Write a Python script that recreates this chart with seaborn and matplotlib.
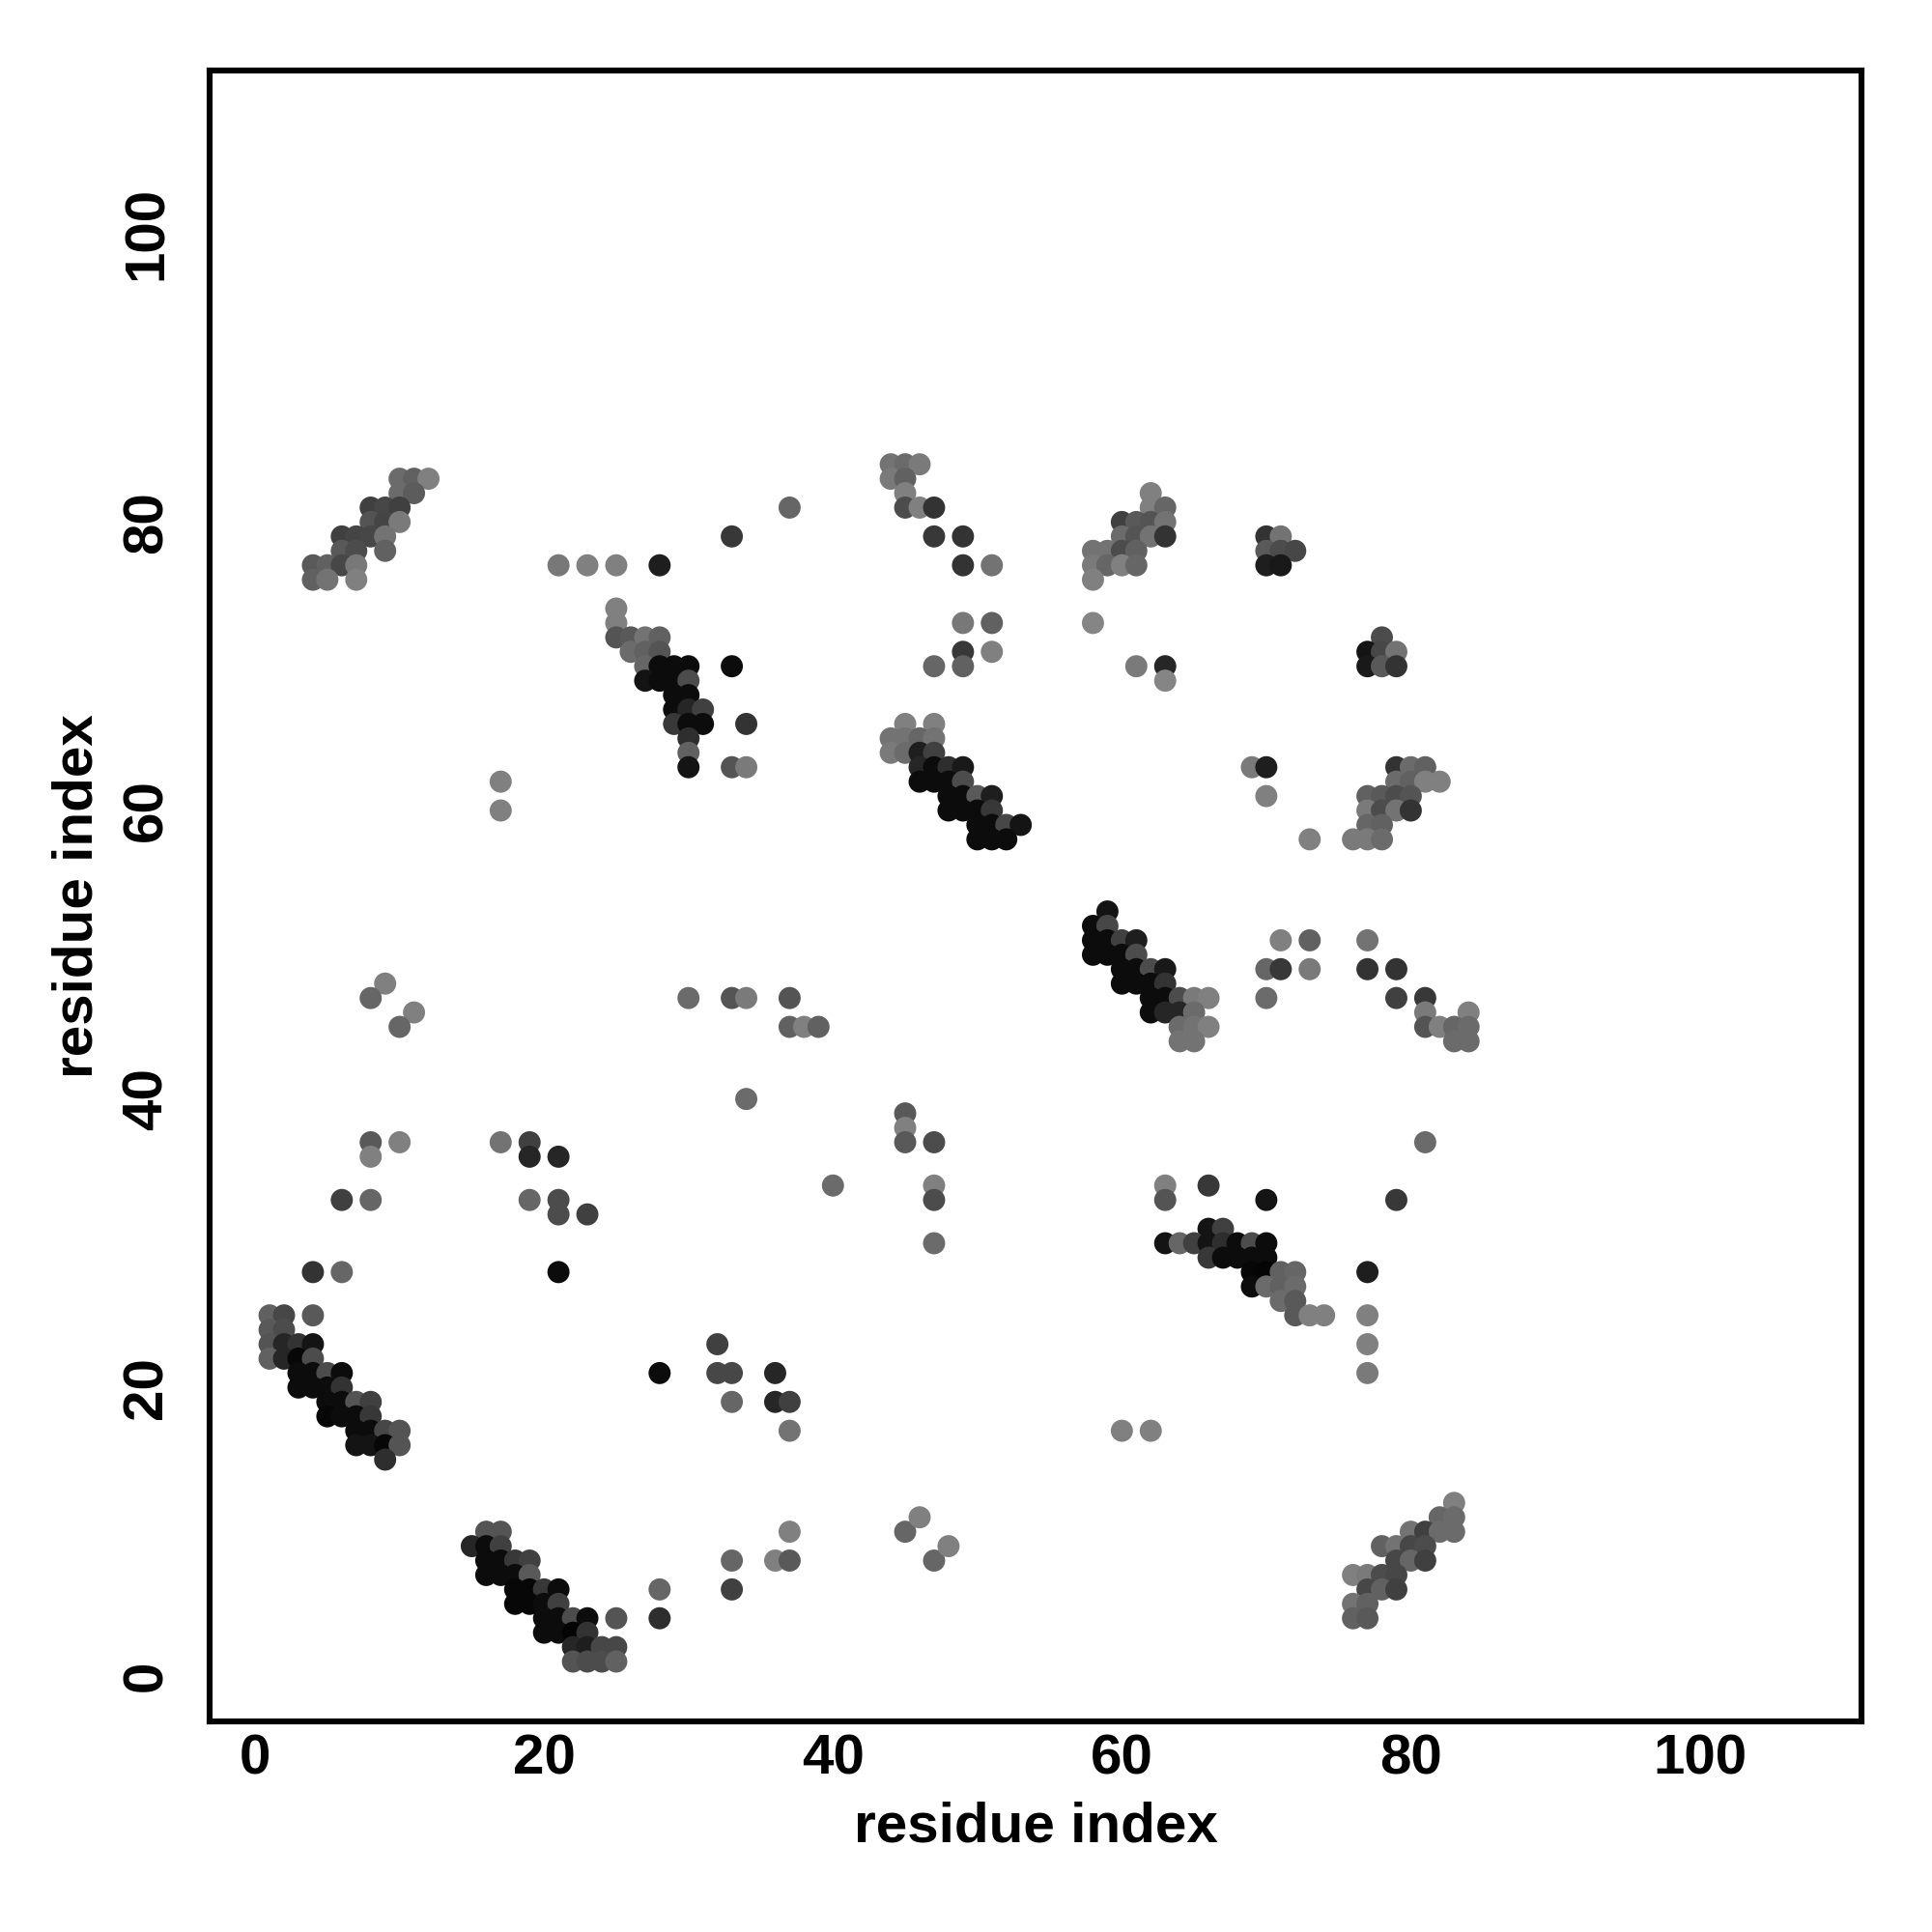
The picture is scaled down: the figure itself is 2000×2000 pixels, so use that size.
import matplotlib
matplotlib.use("Agg")
import matplotlib.pyplot as plt
import seaborn as sns
import pandas as pd

# ---- data: contact map (residue i, residue j, grey level of the dot) ----
res_i = [
    # cluster top-left
    10, 11, 12, 10, 11, 8, 9, 10, 8, 9, 10, 6, 7, 8, 9, 6, 7, 9, 4, 5, 6, 7, 4, 5, 7,
    21, 23, 25, 28, 33, 37, 17, 17,
    # cluster 25-34 / 63-74
    25, 25, 25, 26, 27, 28, 26, 27, 28, 27, 28, 29, 30, 33, 27, 28, 29, 30, 29, 30,
    29, 30, 31, 29, 30, 31, 34, 30, 30, 30, 33, 34,
    # cluster 44-53 / 58-66
    45, 47, 44, 45, 46, 47, 44, 45, 46, 47, 46, 47, 48, 49, 46, 47, 48, 49,
    48, 49, 50, 51, 48, 49, 50, 51, 50, 51, 52, 53, 50, 51, 52,
    # top middle 44-51 / 70-84
    44, 45, 46, 44, 45, 45, 45, 46, 47, 47, 49, 49, 51, 49, 51, 49, 51, 47, 49,
    # cluster 58-63 / 69-82
    62, 62, 63, 60, 61, 62, 63, 60, 61, 62, 63, 58, 59, 60, 61, 58, 59, 60, 61, 58, 58,
    61, 63, 63,
    70, 71, 70, 71, 72, 70, 71,
    78, 77, 78, 79, 77, 78, 79,
    69, 70, 70, 73,
    # cluster 76-82 / 58-63
    79, 80, 81, 79, 80, 81, 82, 77, 78, 79, 80, 77, 78, 79, 80, 77, 78, 76, 77, 78,
    # cluster 58-66 / 44-53
    59, 58, 59, 58, 59, 60, 61, 58, 59, 60, 61, 60, 61, 62, 63, 60, 61, 62, 63,
    62, 63, 64, 65, 66, 62, 63, 64, 65, 64, 65, 66, 64, 65,
    71, 73, 77, 70, 71, 73, 77, 79, 70, 79, 81, 81, 84, 81, 82, 83, 84, 83, 84, 81,
    # cluster 63-77 / 21-34
    63, 66, 63, 70, 79, 66, 67, 63, 64, 65, 66, 67, 68, 69, 70, 66, 67, 68, 69, 70,
    69, 70, 71, 72, 77, 69, 70, 71, 72, 71, 72, 72, 73, 74, 77, 77, 77, 60, 62,
    # cluster 1-10 / 15-25
    1, 2, 4, 1, 2, 1, 2, 3, 4, 1, 2, 3, 4, 3, 4, 5, 6, 3, 4, 5, 6, 5, 6, 7, 8,
    5, 6, 7, 8, 7, 8, 9, 10, 7, 8, 9, 10, 9,
    # cluster 15-25 / 1-10
    16, 17, 15, 16, 17, 16, 17, 18, 19, 16, 17, 18, 19, 18, 19, 20, 21, 18, 19, 20, 21,
    20, 21, 22, 23, 25, 20, 21, 22, 23, 22, 23, 24, 25, 22, 23, 24, 25, 28, 28,
    # scattered contacts
    9, 8, 11, 10, 8, 10, 17, 19, 8, 19, 21, 6, 8, 19, 21, 21, 23, 4, 6, 21,
    30, 33, 34, 37, 37, 38, 39, 34, 45, 45, 45, 47, 40, 47, 47, 47,
    32, 28, 32, 33, 36, 33, 36, 37, 37, 37, 45, 46, 33, 36, 37, 47, 48, 33,
    # cluster bottom-right 76-83 / 4-12
    83, 82, 83, 80, 81, 82, 83, 78, 79, 80, 81, 79, 80, 81, 76, 77, 78, 79, 77, 78, 79,
    76, 77, 76, 77,
]

res_j = [
    83, 83, 83, 82, 82, 81, 81, 81, 80, 80, 80, 79, 79, 79, 79, 78, 78, 78, 77, 77, 77, 77, 76, 76, 76,
    77, 77, 77, 77, 79, 81, 62, 60,
    74, 73, 72, 72, 72, 72, 71, 71, 71, 70, 70, 70, 70, 70, 69, 69, 69, 69, 68, 68,
    67, 67, 67, 66, 66, 66, 66, 65, 64, 63, 63, 63,
    66, 66, 65, 65, 65, 65, 64, 64, 64, 64, 63, 63, 63, 63, 62, 62, 62, 62,
    61, 61, 61, 61, 60, 60, 60, 60, 59, 59, 59, 59, 58, 58, 58,
    84, 84, 84, 83, 83, 82, 81, 81, 81, 79, 79, 77, 77, 73, 73, 71, 71, 70, 70,
    82, 81, 81, 80, 80, 80, 80, 79, 79, 79, 79, 78, 78, 78, 78, 77, 77, 77, 77, 76, 73,
    70, 70, 69,
    79, 79, 78, 78, 78, 77, 77,
    72, 71, 71, 71, 70, 70, 70,
    63, 63, 61, 58,
    63, 63, 63, 62, 62, 62, 62, 61, 61, 61, 61, 60, 60, 60, 60, 59, 59, 58, 58, 58,
    53, 52, 52, 51, 51, 51, 51, 50, 50, 50, 50, 49, 49, 49, 49, 48, 48, 48, 48,
    47, 47, 47, 47, 47, 46, 46, 46, 46, 45, 45, 45, 44, 44,
    51, 51, 51, 49, 49, 49, 49, 49, 47, 47, 47, 46, 46, 45, 45, 45, 45, 44, 44, 37,
    34, 34, 33, 33, 33, 31, 31, 30, 30, 30, 30, 30, 30, 30, 30, 29, 29, 29, 29, 29,
    28, 28, 28, 28, 28, 27, 27, 27, 27, 26, 26, 25, 25, 25, 25, 23, 21, 17, 17,
    25, 25, 25, 24, 24, 23, 23, 23, 23, 22, 22, 22, 22, 21, 21, 21, 21, 20, 20, 20, 20, 19, 19, 19, 19,
    18, 18, 18, 18, 17, 17, 17, 17, 16, 16, 16, 16, 15,
    10, 10, 9, 9, 9, 8, 8, 8, 8, 7, 7, 7, 7, 6, 6, 6, 6, 5, 5, 5, 5,
    4, 4, 4, 4, 4, 3, 3, 3, 3, 2, 2, 2, 2, 1, 1, 1, 1, 6, 4,
    48, 47, 46, 45, 37, 37, 37, 37, 36, 36, 36, 33, 33, 33, 33, 32, 32, 28, 28, 28,
    47, 47, 47, 47, 45, 45, 45, 40, 39, 38, 37, 37, 34, 34, 33, 30,
    23, 21, 21, 21, 21, 19, 19, 19, 17, 10, 10, 11, 8, 8, 8, 8, 9, 6,
    12, 11, 11, 10, 10, 10, 10, 9, 9, 9, 9, 8, 8, 8, 7, 7, 7, 7, 6, 6, 6,
    5, 5, 4, 4,
]

shade = [
    .42, .38, .50, .42, .36, .25, .28, .25, .33, .27, .48, .25, .27, .28, .45, .35, .30, .38, .35, .38, .28, .47, .38, .45, .50,
    .47, .50, .50, .12, .22, .40, .50, .50,
    .50, .50, .33, .35, .45, .38, .42, .38, .33, .40, .05, .05, .05, .05, .08, .05, .05, .30, .05, .05,
    .05, .15, .25, .22, .05, .05, .20, .18, .38, .08, .33, .48,
    .50, .50, .45, .45, .40, .45, .48, .42, .12, .25, .15, .05, .18, .10, .05, .05, .05, .30,
    .05, .05, .35, .12, .05, .05, .05, .22, .05, .05, .28, .08, .05, .05, .05,
    .45, .42, .48, .48, .38, .50, .30, .50, .20, .22, .20, .20, .45, .47, .38, .22, .50, .40, .38,
    .50, .50, .40, .25, .35, .33, .45, .42, .33, .45, .20, .45, .45, .30, .38, .48, .40, .50, .40, .50, .52,
    .48, .15, .52,
    .20, .45, .35, .30, .28, .12, .10,
    .30, .08, .28, .45, .10, .35, .20,
    .48, .12, .50, .50,
    .20, .42, .38, .42, .38, .50, .50, .38, .35, .30, .33, .48, .30, .45, .20, .40, .38, .48, .48, .42,
    .08, .05, .28, .05, .05, .25, .12, .05, .05, .05, .30, .05, .05, .30, .10, .05, .05, .05, .20,
    .05, .05, .30, .48, .50, .05, .15, .15, .42, .42, .45, .50, .45, .45,
    .50, .38, .45, .40, .22, .48, .20, .20, .42, .25, .22, .48, .50, .33, .50, .40, .42, .42, .42, .42,
    .50, .22, .33, .08, .22, .08, .25, .08, .40, .25, .08, .18, .05, .30, .05, .22, .05, .05, .05, .05,
    .03, .02, .38, .40, .12, .05, .42, .38, .42, .42, .35, .35, .50, .50, .50, .50, .48, .50, .50,
    .38, .28, .35, .35, .30, .33, .15, .20, .08, .38, .15, .03, .30, .05, .05, .30, .05, .05, .05, .05, .20, .05, .05, .33, .25,
    .03, .05, .05, .22, .05, .05, .28, .33, .08, .08, .03, .33, .18,
    .33, .33, .15, .05, .25, .05, .05, .22, .25, .05, .05, .05, .35, .03, .03, .22, .05, .03, .03, .05, .25,
    .05, .05, .30, .05, .33, .05, .05, .02, .20, .15, .12, .28, .28, .33, .30, .30, .38, .40, .18,
    .50, .40, .50, .40, .35, .50, .45, .25, .50, .15, .15, .25, .40, .40, .30, .30, .25, .20, .40, .05,
    .42, .33, .48, .33, .38, .50, .38, .42, .35, .50, .35, .30, .42, .50, .30, .42,
    .25, .05, .28, .28, .15, .40, .15, .25, .45, .50, .40, .50, .40, .50, .35, .40, .50, .25,
    .50, .40, .42, .45, .25, .42, .42, .38, .45, .28, .30, .28, .40, .25, .50, .48, .30, .28, .28, .38, .25,
    .45, .38, .38, .35,
]

x_ticks = [0, 20, 40, 60, 80, 100]
y_ticks = [0, 20, 40, 60, 80, 100]
axis_label = "residue index"

df = pd.DataFrame({"i": res_i, "j": res_j, "shade": shade})

sns.set_style("white")
plt.rcParams["font.family"] = ["Liberation Sans", "DejaVu Sans"]
plt.rcParams["font.weight"] = "bold"
plt.rcParams["text.color"] = "black"
plt.rcParams["axes.labelcolor"] = "black"
plt.rcParams["xtick.color"] = "black"
plt.rcParams["ytick.color"] = "black"

fig = plt.figure(figsize=(10, 10), dpi=200)
ax = fig.add_axes([0.1085, 0.109, 0.855, 0.8545])

sns.scatterplot(data=df, x="i", y="j", hue="shade", palette="gray",
                hue_norm=(0, 1), s=68, linewidth=0, legend=False, ax=ax)

ax.set_xlim(-3.15, 111.2)
ax.set_ylim(-3.15, 111.3)
ax.set_xticks(x_ticks)
ax.set_yticks(y_ticks)
ax.set_xticklabels([str(t) for t in x_ticks], fontsize=21, fontweight="bold", color="black")
ax.set_yticklabels([str(t) for t in y_ticks], fontsize=21, fontweight="bold",
                   rotation=90, va="center", color="black")
ax.tick_params(axis="both", direction="out", length=3.5, width=1.6, color="black")
ax.tick_params(axis="x", pad=1)
ax.tick_params(axis="y", pad=10)

for sp in ax.spines.values():
    sp.set_visible(True)
    sp.set_linewidth(2.2)
    sp.set_color("black")

ax.set_xlabel(axis_label, fontsize=21, fontweight="bold", color="black")
ax.set_ylabel(axis_label, fontsize=21, fontweight="bold", color="black")
ax.xaxis.set_label_coords(0.5, -0.064)
ax.xaxis.label.set_verticalalignment("center")
ax.yaxis.set_label_coords(-0.080, 0.5)
ax.yaxis.label.set_verticalalignment("center")

fig.savefig("out.png", dpi=200, facecolor="white")
